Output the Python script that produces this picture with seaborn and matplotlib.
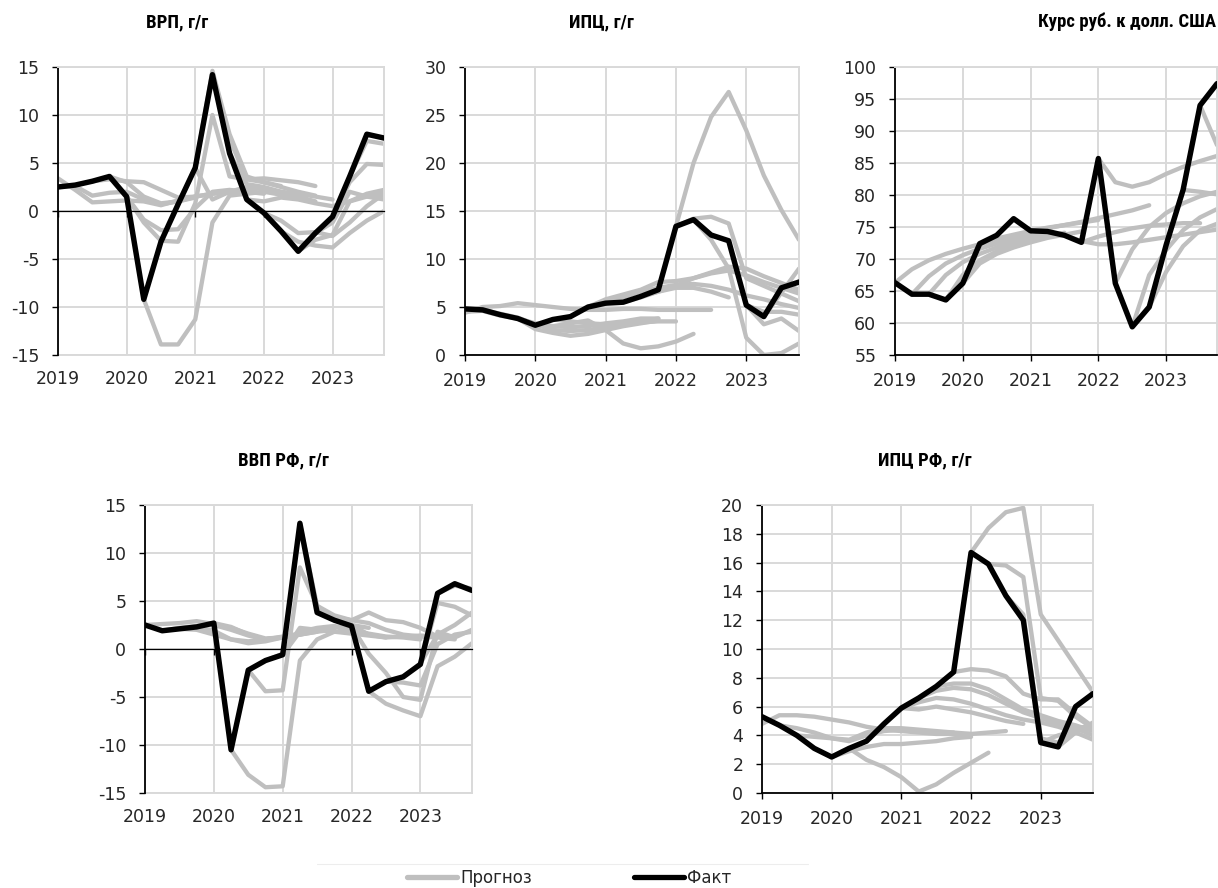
import matplotlib
matplotlib.use("Agg")
import matplotlib.pyplot as plt
from matplotlib.lines import Line2D
import pandas as pd
import seaborn as sns

sns.set_style("white")
plt.rcParams["font.family"] = ["DejaVu Sans"]
plt.rcParams["axes.unicode_minus"] = False

W, H = 1218, 888
GRAY = "#BFBFBF"
GRID = "#D9D9D9"

# quarterly time axis, 2019Q1 .. 2023Q4
QUARTERS = [2019 + q / 4 for q in range(20)]
YEARS = [2019, 2020, 2021, 2022, 2023]
YEAR_LABELS = ["2019", "2020", "2021", "2022", "2023"]

# --- ВРП, г/г ---
GRP_FACT = [2.5, 2.7, 3.1, 3.6, 1.5, -9.2, -3.2, 0.7, 4.5, 14.2,
            6.0, 1.2, -0.2, -2.1, -4.2, -2.3, -0.6, 3.6, 8.0, 7.6]
GRP_FORECASTS = [
    (0, [3.4, 2.2, 0.9, 1.0, 1.1, 1.0, 0.6, 1.1, 1.5]),
    (0, [2.5, 2.6, 1.6, 1.9, 2.0, 1.2, 0.7, 1.0, 1.4]),
    (2, [3.1, 3.3, 3.1, 3.0, 2.2, 1.4, 1.5, 1.8, 2.0, 2.1]),
    (3, [3.6, 3.0, 1.5, 0.8, 1.0, 1.5, 1.8, 2.0, 2.2, 2.4]),
    (4, [1.5, -1.2, -3.1, -3.2, 0.8, 10.0, 3.6, 3.3, 3.0, 2.6]),
    (4, [1.5, -0.9, -2.0, -1.9, 0.3, 2.0, 2.2, 2.0, 1.8]),
    (5, [-9.2, -13.9, -13.9, -11.3, -1.2, 1.6, 1.8, 2.0, 1.7, 1.5]),
    (7, [0.7, 4.5, 14.6, 8.0, 3.6, 3.0, 2.5, 2.0, 1.6]),
    (8, [4.5, 1.2, 2.0, 2.5, 2.3, 2.0, 1.5, 1.0]),
    (9, [14.2, 7.5, 3.3, 3.4, 3.2, 3.0, 2.6]),
    (10, [6.0, 2.8, 2.5, 2.0, 1.8, 1.5, 1.2]),
    (11, [1.2, 1.0, 1.4, 1.2, 0.8, 0.5, 1.0, 1.5, 1.8]),
    (12, [-0.2, -1.0, -2.3, -2.2, -2.6, -1.2, 0.5, 1.8]),
    (13, [-2.1, -3.2, -3.6, -3.8, -2.3, -1.0, 0.0]),
    (14, [-4.2, -3.0, -2.5, 1.0, 1.8, 2.2]),
    (15, [-2.3, -1.2, 2.0, 1.5, 1.2]),
    (16, [-0.6, 3.0, 4.9, 4.8]),
    (17, [3.6, 7.3, 7.0]),
]
GRP_YTICKS = [-15, -10, -5, 0, 5, 10, 15]

# --- ИПЦ, г/г ---
CPI_FACT = [4.8, 4.7, 4.2, 3.8, 3.1, 3.7, 4.0, 5.0, 5.4, 5.5,
            6.1, 6.8, 13.4, 14.1, 12.5, 11.9, 5.2, 4.0, 7.0, 7.6]
CPI_FORECASTS = [
    (0, [4.4, 5.0, 5.1, 5.4, 5.2, 5.0, 4.8, 4.7, 4.7, 4.8, 4.8, 4.7, 4.7, 4.7, 4.7]),
    (0, [4.5, 4.6, 4.1, 3.8, 2.7, 2.3, 2.0, 2.2, 2.6, 3.0, 3.3, 3.6]),
    (1, [4.7, 4.3, 3.9, 3.2, 2.6, 2.5, 2.6, 2.9, 3.2, 3.5, 3.8]),
    (3, [3.8, 3.3, 3.0, 2.9, 3.0, 3.3, 3.5, 3.8, 3.8]),
    (4, [3.1, 3.0, 3.3, 3.6, 2.6, 1.2, 0.7, 0.9, 1.4, 2.2]),
    (5, [3.7, 3.5, 3.3, 3.2, 3.3, 3.4, 3.5, 3.5]),
    (7, [5.0, 5.8, 6.3, 6.8, 7.6, 7.7, 8.0, 8.5, 8.8, 8.3, 7.6, 7.0, 6.4]),
    (8, [5.4, 6.0, 6.6, 7.0, 7.3, 7.4, 7.2, 6.8, 6.2, 5.8, 5.3, 4.9]),
    (9, [5.5, 6.0, 6.6, 7.2, 8.0, 8.6, 9.2, 9.0, 8.2, 7.5, 6.8]),
    (10, [6.1, 6.6, 7.0, 7.0, 6.6, 6.0]),
    (12, [13.4, 20.0, 24.8, 27.4, 23.4, 18.7, 15.1, 12.0]),
    (12, [13.4, 14.2, 14.4, 13.7, 8.0, 7.2, 6.4, 5.6]),
    (13, [14.1, 12.0, 9.0, 1.8, 0.0, 0.2, 1.2]),
    (16, [5.2, 3.2, 3.8, 2.5]),
    (16, [5.2, 4.5, 4.5, 4.2]),
    (17, [4.0, 6.5, 9.0]),
]
CPI_YTICKS = [0, 5, 10, 15, 20, 25, 30]

# --- Курс руб. к долл. США ---
FX_FACT = [66.3, 64.5, 64.5, 63.6, 66.2, 72.4, 73.7, 76.3, 74.4, 74.3,
           73.7, 72.6, 85.7, 66.2, 59.4, 62.5, 72.2, 80.8, 94.0, 97.4]
FX_FORECASTS = [
    (0, [66.3, 68.4, 69.8, 70.8, 71.6, 72.3, 72.9, 73.4, 73.8]),
    (1, [64.5, 67.3, 69.3, 70.6, 71.6, 72.4, 73.1, 73.6, 74.0]),
    (2, [64.5, 67.5, 69.5, 70.8, 71.8, 72.6, 73.3, 73.8]),
    (3, [63.6, 67.5, 69.8, 71.2, 72.2, 73.0, 73.6, 74.1]),
    (4, [66.2, 69.3, 70.8, 71.8, 72.6, 73.3, 73.8, 74.3]),
    (5, [72.4, 73.2, 73.8, 74.4, 74.9, 75.3, 75.7, 76.1]),
    (8, [74.4, 74.8, 75.3, 75.8, 76.4, 77.0, 77.6, 78.4]),
    (10, [73.7, 72.8, 72.3, 72.3, 72.6, 73.0, 73.4, 73.8, 74.2, 74.6]),
    (11, [72.6, 73.5, 74.2, 74.8, 75.2, 75.4, 75.6, 75.6]),
    (12, [85.7, 82.0, 81.3, 82.0, 83.3, 84.4, 85.3, 86.1]),
    (13, [66.2, 71.5, 75.0, 77.2, 78.7, 79.8, 80.5]),
    (14, [59.4, 67.5, 71.4, 74.5, 76.5, 77.8]),
    (15, [62.5, 68.0, 72.0, 74.5, 75.5]),
    (17, [80.8, 80.5, 80.1]),
    (18, [94.0, 87.8]),
]
FX_YTICKS = [55, 60, 65, 70, 75, 80, 85, 90, 95, 100]

# --- ВВП РФ, г/г ---
GDP_FACT = [2.5, 1.9, 2.1, 2.3, 2.7, -10.5, -2.2, -1.2, -0.6, 13.1,
            3.8, 3.0, 2.4, -4.4, -3.4, -2.9, -1.6, 5.8, 6.8, 6.1]
GDP_FORECASTS = [
    (0, [2.5, 2.6, 2.7, 2.9, 2.6, 2.2, 1.6, 1.1, 1.2]),
    (1, [1.9, 2.2, 2.4, 2.5, 2.0, 1.4, 1.0, 1.3, 1.6]),
    (2, [2.1, 2.0, 1.5, 1.0, 0.8, 1.0, 1.2, 1.5, 1.8]),
    (3, [2.3, 1.9, 1.0, 0.6, 0.8, 1.2, 1.5, 1.8, 2.0]),
    (4, [2.7, 2.3, 1.5, 1.0, 1.2, 1.5, 2.0, 2.3, 2.2]),
    (5, [-10.5, -13.1, -14.4, -14.3, -1.2, 1.0, 1.8, 2.0]),
    (6, [-2.2, -4.4, -4.3, 8.5, 4.5, 3.0, 2.5, 2.2]),
    (7, [-1.2, -0.5, 2.2, 2.0, 1.8, 1.6, 1.4, 1.2]),
    (8, [-0.6, 1.8, 2.2, 2.4, 2.0, 1.6, 1.3, 1.2, 1.0]),
    (9, [13.1, 4.5, 3.5, 3.0, 3.8, 3.0, 2.8, 2.2, 1.3]),
    (10, [3.8, 3.3, 3.0, 2.7, 2.0, 1.5, 1.3, 1.2, 1.0]),
    (11, [3.0, 2.5, 1.5, 1.2, 1.3, 1.4, 1.3, 1.2]),
    (12, [2.4, -0.5, -2.5, -5.0, -5.3, 1.8, 1.2, 2.0]),
    (13, [-4.4, -5.7, -6.4, -7.0, -1.8, -0.8, 0.6]),
    (14, [-3.4, -3.5, -3.8, 0.5, 1.5, 1.8]),
    (15, [-2.9, -1.5, 1.5, 2.5, 3.8]),
    (16, [-1.6, 4.8, 4.4, 3.5]),
    (17, [5.8, 6.6, 6.3]),
]
GDP_YTICKS = [-15, -10, -5, 0, 5, 10, 15]

# --- ИПЦ РФ, г/г ---
CPI_RF_FACT = [5.3, 4.7, 4.0, 3.1, 2.5, 3.1, 3.6, 4.8, 5.9, 6.6,
               7.4, 8.4, 16.7, 15.9, 13.7, 12.0, 3.5, 3.2, 6.0, 6.9]
CPI_RF_FORECASTS = [
    (0, [4.8, 5.4, 5.4, 5.3, 5.1, 4.9, 4.6, 4.4, 4.3, 4.2, 4.1, 4.1, 4.1, 4.2, 4.3]),
    (1, [4.7, 4.5, 4.2, 3.8, 3.6, 4.0, 4.3, 4.4, 4.3, 4.2, 4.2]),
    (2, [4.0, 3.9, 3.8, 3.7, 4.2, 4.5, 4.5, 4.4, 4.3, 4.2, 4.1]),
    (4, [2.5, 2.9, 3.2, 3.4, 3.4, 3.5, 3.6, 3.8, 3.9]),
    (5, [3.1, 2.3, 1.8, 1.1, 0.1, 0.6, 1.4, 2.1, 2.8]),
    (8, [5.9, 6.3, 6.6, 6.5, 6.2, 5.8, 5.4, 5.1, 4.9, 4.6, 4.2, 3.7]),
    (8, [5.9, 5.8, 6.0, 5.8, 5.6, 5.3, 5.0, 4.8]),
    (9, [6.6, 7.1, 7.3, 7.2, 6.8, 6.2, 5.6, 5.2, 4.8, 4.5, 4.0]),
    (10, [7.4, 7.6, 7.6, 7.2, 6.5, 5.8, 5.4, 5.0, 4.7, 4.3]),
    (11, [8.4, 8.6, 8.5, 8.1, 6.9, 6.5, 6.5, 5.5, 4.6]),
    (12, [16.7, 18.4, 19.5, 19.8, 12.4, 10.6, 8.8, 7.0]),
    (13, [15.9, 15.8, 15.0, 6.6, 6.4, 5.3, 4.5]),
    (14, [13.7, 12.4, 3.8, 3.5, 4.4, 4.8]),
    (16, [3.5, 4.0, 4.3, 4.6]),
    (17, [3.2, 4.2, 4.9]),
]
CPI_RF_YTICKS = [0, 2, 4, 6, 8, 10, 12, 14, 16, 18, 20]

LEGEND_LABELS = ["Прогноз", "Факт"]

TICK_SIZE = 12.5
TITLE_FONT = ["Roboto Condensed", "Liberation Sans", "DejaVu Sans"]
TITLE_SIZE = 13.5


def forecast_frame(vintages):
    rows = []
    for k, (start, values) in enumerate(vintages):
        for j, v in enumerate(values):
            rows.append({"vintage": k, "t": QUARTERS[start + j], "value": v})
    return pd.DataFrame(rows)


def px_rect(left, top, right, bottom):
    return [left / W, 1 - bottom / H, (right - left) / W, (bottom - top) / H]


def draw_panel(fig, box, title, title_xy, fact, vintages, yticks, zero_axis):
    ax = fig.add_axes(px_rect(*box))
    fc = forecast_frame(vintages)
    sns.lineplot(data=fc, x="t", y="value", units="vintage", estimator=None,
                 color=GRAY, lw=3.1, solid_capstyle="round",
                 solid_joinstyle="round", sort=False, legend=False,
                 ax=ax, zorder=2)
    sns.lineplot(x=QUARTERS, y=fact, color="black", lw=3.9,
                 solid_capstyle="round", solid_joinstyle="round",
                 ax=ax, zorder=3)
    ax.set_xlim(QUARTERS[0], QUARTERS[-1])
    ax.set_ylim(yticks[0], yticks[-1])
    ax.set_yticks(yticks)
    ax.set_yticklabels([str(v) for v in yticks])
    ax.set_xticks(YEARS)
    ax.set_xlabel("")
    ax.set_ylabel("")
    ax.grid(True, color=GRID, lw=1.4)
    ax.set_axisbelow(True)
    for side in ("top", "right"):
        ax.spines[side].set_visible(True)
        ax.spines[side].set_color(GRID)
        ax.spines[side].set_linewidth(1.4)
    ax.spines["left"].set_visible(True)
    ax.spines["left"].set_color("black")
    ax.spines["left"].set_linewidth(1.3)
    ax.tick_params(axis="y", direction="out", length=4, width=1,
                   color="black", labelsize=TICK_SIZE, pad=9.5, left=True)
    if zero_axis:
        ax.spines["bottom"].set_visible(True)
        ax.spines["bottom"].set_position(("data", 0))
        ax.spines["bottom"].set_color("black")
        ax.spines["bottom"].set_linewidth(0.9)
        ax.tick_params(axis="x", direction="out", length=4, width=1,
                       color="black", bottom=True, labelbottom=False)
        sec = ax.secondary_xaxis("bottom")
        sec.set_xticks(YEARS, labels=YEAR_LABELS)
        sec.tick_params(length=0, labelsize=TICK_SIZE, pad=11)
        sec.spines["bottom"].set_color(GRID)
        sec.spines["bottom"].set_linewidth(1.4)
    else:
        ax.spines["bottom"].set_visible(True)
        ax.spines["bottom"].set_color("black")
        ax.spines["bottom"].set_linewidth(1.3)
        ax.set_xticklabels(YEAR_LABELS)
        ax.tick_params(axis="x", direction="out", length=4, width=1,
                       color="black", labelsize=TICK_SIZE, pad=8, bottom=True)
    fig.text(title_xy[0] / W, 1 - title_xy[1] / H, title,
             family=TITLE_FONT, fontweight="bold", fontsize=TITLE_SIZE,
             color="black", ha="center", va="center")
    return ax


fig = plt.figure(figsize=(W / 100, H / 100), dpi=100)

draw_panel(fig, (58, 67, 384, 355), "ВРП, г/г", (177, 22),
           GRP_FACT, GRP_FORECASTS, GRP_YTICKS, zero_axis=True)
draw_panel(fig, (465, 67, 799, 355), "ИПЦ, г/г", (601, 22),
           CPI_FACT, CPI_FORECASTS, CPI_YTICKS, zero_axis=False)
draw_panel(fig, (895, 67, 1217, 355), "Курс руб. к долл. США", (1127, 22),
           FX_FACT, FX_FORECASTS, FX_YTICKS, zero_axis=False)
draw_panel(fig, (145, 505, 472, 793), "ВВП РФ, г/г", (283, 460),
           GDP_FACT, GDP_FORECASTS, GDP_YTICKS, zero_axis=True)
draw_panel(fig, (762, 505, 1093, 793), "ИПЦ РФ, г/г", (925, 460),
           CPI_RF_FACT, CPI_RF_FORECASTS, CPI_RF_YTICKS, zero_axis=False)

# legend box top edge
fig.add_artist(Line2D([317 / W, 808 / W], [1 - 864 / H, 1 - 864 / H],
                      color="#EDEDED", lw=0.8, transform=fig.transFigure))

handles = [
    Line2D([], [], color=GRAY, lw=3.8, solid_capstyle="round"),
    Line2D([], [], color="black", lw=3.8, solid_capstyle="round"),
]
fig.legend(handles, LEGEND_LABELS, loc="center left",
           bbox_to_anchor=(407 / W, 1 - 878 / H), ncol=2, frameon=False,
           fontsize=12, handlelength=3.0, handletextpad=0.2,
           columnspacing=6.1, borderpad=0, borderaxespad=0)

fig.savefig("out.png", dpi=100)
